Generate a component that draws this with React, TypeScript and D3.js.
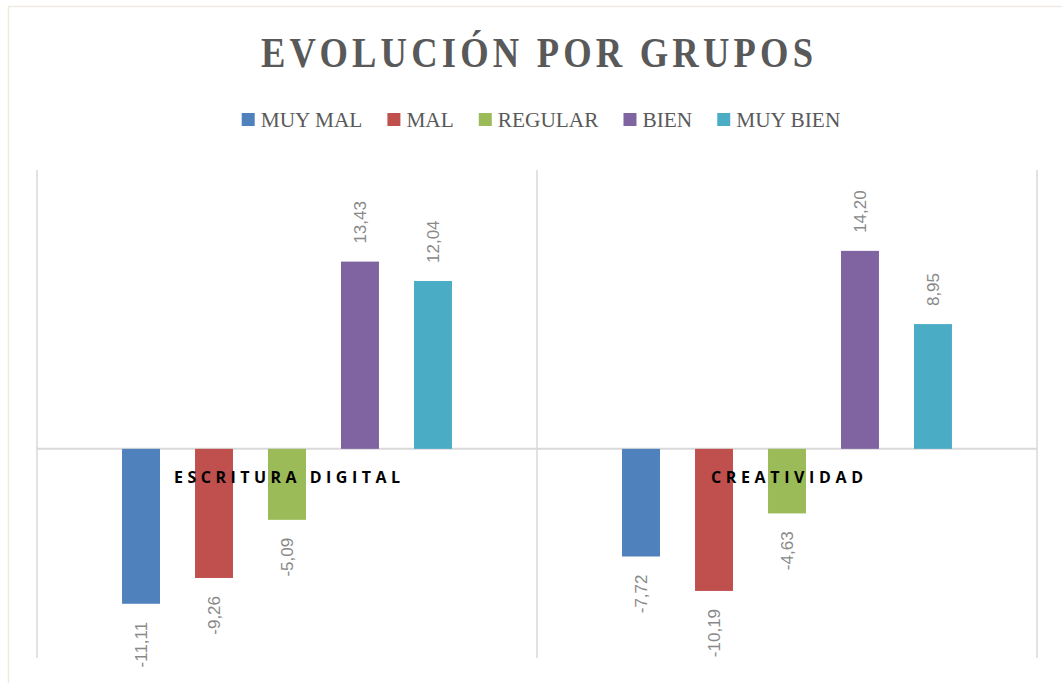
import React, { useEffect, useRef } from "react";
import * as d3 from "d3";

const categories = ["ESCRITURA DIGITAL", "CREATIVIDAD"];
const series = ["MUY MAL", "MAL", "REGULAR", "BIEN", "MUY BIEN"];
const colors = ["#4f81bd", "#c0504d", "#9bbb59", "#8064a2", "#4bacc6"];
const escrituraValues = [-11.11, -9.26, -5.09, 13.43, 12.04];
const creatividadValues = [-7.72, -10.19, -4.63, 14.2, 8.95];
const valuesByCategory = [escrituraValues, creatividadValues];

const WIDTH = 1062;
const HEIGHT = 683;

export default function App() {
  const ref = useRef<SVGSVGElement>(null);

  useEffect(() => {
    const svg = d3.select(ref.current);
    svg.selectAll("*").remove();

    const margin = { top: 170, right: 25, bottom: 25, left: 37 };
    const plotW = WIDTH - margin.left - margin.right; // 1000
    const plotH = HEIGHT - margin.top - margin.bottom;

    // chart area border (Office tan)
    svg
      .append("rect")
      .attr("x", 8.5)
      .attr("y", 6.5)
      .attr("width", 1070)
      .attr("height", 700)
      .attr("fill", "#ffffff")
      .attr("stroke", "#eeece1")
      .attr("stroke-width", 1.5);

    // title, squeezed horizontally to look like the condensed original
    svg
      .append("g")
      .attr("transform", "translate(537,67) scale(0.85,1)")
      .append("text")
      .attr("x", 0)
      .attr("y", 0)
      .attr("text-anchor", "middle")
      .attr("font-family", "'Liberation Serif', serif")
      .attr("font-weight", "bold")
      .attr("font-size", 43)
      .attr("fill", "#595959")
      .attr("textLength", 552 / 0.85)
      .attr("lengthAdjust", "spacing")
      .text("EVOLUCIÓN POR GRUPOS");

    // legend
    const sx = 0.97;
    const legend = svg.append("g");
    let lx = 0;
    series.forEach((s, i) => {
      const item = legend.append("g").attr("transform", `translate(${lx},0)`);
      item
        .append("rect")
        .attr("x", 0)
        .attr("y", 113)
        .attr("width", 13)
        .attr("height", 13)
        .attr("fill", colors[i]);
      const t = item
        .append("text")
        .attr("transform", `translate(19,127) scale(${sx},1)`)
        .attr("font-family", "'Liberation Serif', serif")
        .attr("font-size", 22)
        .attr("fill", "#595959")
        .text(s);
      const w = (t.node() as SVGTextElement).getComputedTextLength() * sx;
      lx += 19 + w + 25;
    });
    const legendW = lx - 25;
    legend.attr("transform", `translate(${541 - legendW / 2},0)`);

    const x0 = d3
      .scaleBand<string>()
      .domain(categories)
      .range([margin.left, margin.left + plotW]);
    const x1 = d3
      .scaleBand<string>()
      .domain(series)
      .range([0, x0.bandwidth()])
      .paddingInner(0.48)
      .paddingOuter(1.165);
    const y = d3
      .scaleLinear()
      .domain([-15, 20])
      .range([margin.top + plotH, margin.top]);

    const grid = svg.append("g");
    // vertical category gridlines
    const bounds = categories.map((c) => x0(c) as number).concat([margin.left + plotW]);
    grid
      .selectAll("line.v")
      .data(bounds)
      .join("line")
      .attr("class", "v")
      .attr("x1", (d) => d)
      .attr("x2", (d) => d)
      .attr("y1", y(20))
      .attr("y2", y(-15))
      .attr("stroke", "#d9d9d9")
      .attr("stroke-width", 1.5);
    // zero line
    grid
      .append("line")
      .attr("x1", margin.left)
      .attr("x2", margin.left + plotW)
      .attr("y1", y(0))
      .attr("y2", y(0))
      .attr("stroke", "#d9d9d9")
      .attr("stroke-width", 2);

    const fmt = (v: number) => v.toFixed(2).replace(".", ",");

    const groups = svg
      .selectAll("g.cat")
      .data(categories)
      .join("g")
      .attr("class", "cat")
      .attr("transform", (d) => `translate(${x0(d)},0)`);

    groups.each(function (cat, ci) {
      const g = d3.select(this);
      const vals = valuesByCategory[ci];
      const data = series.map((s, i) => ({ s, v: vals[i], c: colors[i] }));

      g.selectAll("rect")
        .data(data)
        .join("rect")
        .attr("x", (d) => x1(d.s) as number)
        .attr("width", x1.bandwidth())
        .attr("y", (d) => y(Math.max(0, d.v)))
        .attr("height", (d) => Math.abs(y(d.v) - y(0)))
        .attr("fill", (d) => d.c);

      g.selectAll("text.val")
        .data(data)
        .join("text")
        .attr("class", "val")
        .attr("transform", (d) => {
          const cx = (x1(d.s) as number) + x1.bandwidth() / 2;
          const yy = d.v >= 0 ? y(d.v) - 18 : y(d.v) + 18;
          return `translate(${cx},${yy}) rotate(-90)`;
        })
        .attr("text-anchor", (d) => (d.v >= 0 ? "start" : "end"))
        .attr("dy", "0.35em")
        .attr("font-family", "'Liberation Sans', sans-serif")
        .attr("font-size", 17)
        .attr("fill", "#898989")
        .text((d) => fmt(d.v));

      // category label
      g.append("text")
        .attr("x", x0.bandwidth() / 2)
        .attr("y", 483)
        .attr("text-anchor", "middle")
        .attr("font-family", "'Open Sans', sans-serif")
        .attr("font-weight", "bold")
        .attr("font-size", 16)
        .attr("fill", "#000000")
        .attr("textLength", cat === "CREATIVIDAD" ? 152 : 226)
        .attr("lengthAdjust", "spacing")
        .text(cat);
    });
  }, []);

  return (
    <div style={{ position: "absolute", left: 0, top: 0 }}>
      <svg ref={ref} width={WIDTH} height={HEIGHT} style={{ display: "block" }} />
    </div>
  );
}
